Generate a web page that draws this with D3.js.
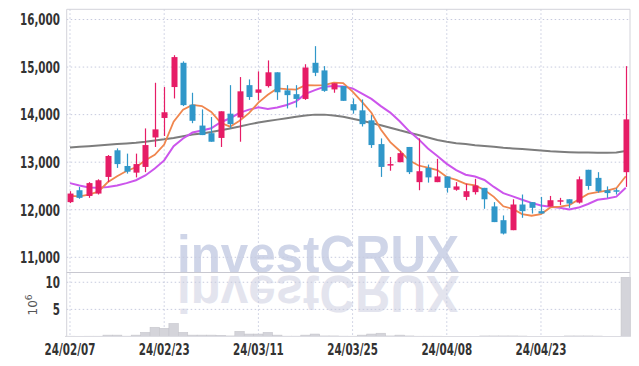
<!DOCTYPE html>
<html><head><meta charset="utf-8">
<script src="https://cdn.jsdelivr.net/npm/d3@7"></script>
<style>
html,body{margin:0;padding:0;background:#fff;}
svg{display:block;}
.tick-lbl{font-family:"DejaVu Sans Condensed","DejaVu Sans","Liberation Sans",sans-serif;font-weight:bold;font-size:16px;fill:#333;}
</style></head>
<body>
<svg id="chart" width="639" height="366"></svg>
<script>
const dates = ["2024-02-07","2024-02-08","2024-02-13","2024-02-14","2024-02-15","2024-02-16","2024-02-19","2024-02-20","2024-02-21","2024-02-22",
"2024-02-23","2024-02-26","2024-02-27","2024-02-28","2024-02-29","2024-03-04","2024-03-05","2024-03-06","2024-03-07","2024-03-08",
"2024-03-11","2024-03-12","2024-03-13","2024-03-14","2024-03-15","2024-03-18","2024-03-19","2024-03-20","2024-03-21","2024-03-22",
"2024-03-25","2024-03-26","2024-03-27","2024-03-28","2024-03-29","2024-04-01","2024-04-02","2024-04-03","2024-04-04","2024-04-05",
"2024-04-08","2024-04-09","2024-04-11","2024-04-12","2024-04-15","2024-04-16","2024-04-17","2024-04-18","2024-04-19","2024-04-22",
"2024-04-23","2024-04-24","2024-04-25","2024-04-26","2024-04-29","2024-04-30","2024-05-02","2024-05-03","2024-05-07","2024-05-08"];

const openP  = [12160,12410,12290,12340,12690,13250,12920,12780,12900,13520,13930,14580,15090,14210,13770,13610,13510,14020,13940,14620,
14460,14600,14890,14510,14430,14330,15090,14930,14530,14600,14220,14090,13880,13380,12930,13000,13320,12580,12880,12580,
12700,12420,12270,12370,12460,12070,11780,11570,12110,12160,11970,12070,12170,12220,12150,12840,12670,12410,12410,12790];
const highP  = [12390,12480,12580,12640,13150,13290,13180,13180,13710,14670,14580,15250,15120,14460,14110,13950,14070,14620,14790,14740,
14910,15140,14890,14620,14620,15060,15440,15020,14660,14600,14340,14320,13990,13500,13110,13240,13320,13500,12950,13070,
12700,12580,12550,12650,12460,12160,11880,12220,12320,12160,12270,12290,12250,12220,12700,12840,12790,12490,12450,15020];
const lowP   = [12140,12230,12250,12320,12580,12880,12760,12680,12790,13320,13550,14340,14180,13820,13570,13430,13320,13710,13430,14310,
14300,14570,14310,14130,14150,14310,14810,14480,14460,14290,14020,13750,13300,12690,12820,13000,12750,12410,12570,12580,
12360,12400,12200,12320,12020,11740,11480,11570,11830,11920,11920,12070,12100,12040,12130,12420,12360,12250,12320,12480];
const closeP = [12340,12250,12560,12620,13130,12960,12800,12960,13360,13690,14050,15210,14200,13870,13570,13430,14070,13800,14490,14370,
14530,14890,14470,14410,14330,14990,14880,14500,14660,14290,14090,13800,13360,12900,12960,13190,12790,12810,12680,12700,
12460,12490,12390,12510,12220,11740,11500,12110,11970,12040,11920,12200,12200,12130,12640,12500,12390,12350,12390,13900];
const volumeM = [0.05,0.04,0.05,0.05,0.25,0.25,0.06,0.25,0.75,1.7,1.5,2.4,0.75,0.25,0.25,0.25,0.22,0.1,0.95,0.45,
0.45,0.75,0.25,0.06,0.06,0.25,0.45,0.1,0.1,0.06,0.05,0.25,0.45,0.6,0.1,0.25,0.1,0.05,0.05,0.05,
0.03,0.03,0.03,0.03,0.1,0.1,0.1,0.1,0.08,0.03,0.03,0.03,0.03,0.1,0.1,0.1,0.08,0.03,0.03,10.9];
const maShort = [12290,12280,12320,12380,12578,12703,12814,12894,13041,13153,13371,13853,14102,14204,14180,14055,13827,13747,13870,14030,
14252,14416,14550,14535,14526,14618,14615,14620,14671,14663,14483,14268,14040,13688,13421,13241,13039,12930,12885,12835,
12688,12628,12544,12511,12414,12271,12072,12017,11909,11874,11909,12049,12066,12097,12216,12332,12370,12401,12453,12705];
const maMid = [12560,12510,12470,12460,12480,12510,12560,12620,12720,12866,13037,13334,13498,13623,13667,13713,13840,13924,14037,14105,
14153,14121,14149,14202,14278,14435,14515,14585,14603,14594,14550,14442,14330,14179,14042,13862,13654,13485,13286,13128,
12965,12833,12737,12698,12625,12479,12350,12280,12210,12144,12090,12061,12042,12003,12045,12121,12210,12234,12275,12461];
const maLong = [13307,13322,13337,13352,13367,13380,13395,13410,13430,13455,13480,13510,13545,13580,13605,13635,13670,13710,13750,13795,
13835,13865,13895,13925,13955,13980,14000,14000,13980,13955,13915,13870,13825,13775,13725,13670,13620,13570,13520,13465,
13430,13400,13380,13355,13340,13325,13305,13290,13278,13262,13245,13228,13218,13210,13205,13202,13200,13200,13202,13235];
const priceTicks = [11000,12000,13000,14000,15000,16000];
const volumeTicks = [5,10];
const dateTickIdx = [0,10,20,30,40,50];

const svg = d3.select("#chart");
const L = 66.7, R = 630, T = 9.3, SEP = 272.5, B = 336.5;
const x = d3.scaleLinear().domain([-0.35, 59.45]).range([L, R]);
const y = d3.scaleLinear().domain([10680, 16215]).range([SEP, T]);
const yv = d3.scaleLinear().domain([0, 11.8]).range([B, SEP]);
const step = x(1) - x(0);
const UP = "#e61c66", DOWN = "#3097c9";
const idx = d3.range(dates.length);
const SX = 0.72;

// watermark
const wm = svg.append("g");
const wmText = (sel) => sel.attr("x", 177).attr("y", 271.5)
  .attr("font-family", "Liberation Sans, Arial, sans-serif").attr("font-weight", "bold")
  .attr("font-size", 52).attr("textLength", 282).attr("lengthAdjust","spacingAndGlyphs").text("investCRUX");
wm.append("text").call(wmText).attr("fill", "#cfd5e8");
wm.append("text").call(wmText).attr("transform", "translate(0,547) scale(1,-1)").attr("fill", "#e3e4ee");

// grids
const gridC = "#c6cade";
svg.append("g").selectAll("line").data(priceTicks).join("line")
  .attr("x1", L).attr("x2", R).attr("y1", d => y(d)).attr("y2", d => y(d))
  .attr("stroke", gridC).attr("stroke-dasharray", "1.5,2.5");
svg.append("g").selectAll("line").data(volumeTicks).join("line")
  .attr("x1", L).attr("x2", R).attr("y1", d => yv(d)).attr("y2", d => yv(d))
  .attr("stroke", gridC).attr("stroke-dasharray", "1.5,2.5");
svg.append("g").selectAll("line").data(dateTickIdx).join("line")
  .attr("x1", d => x(d)).attr("x2", d => x(d)).attr("y1", T).attr("y2", B)
  .attr("stroke", gridC).attr("stroke-dasharray", "1.5,2.5");

// volume bars
svg.append("g").selectAll("rect").data(idx).join("rect")
  .attr("x", i => x(i) - step/2).attr("width", step)
  .attr("y", i => yv(volumeM[i])).attr("height", i => B - yv(volumeM[i]))
  .attr("fill", "#d4d4da").attr("stroke", "#c6c6cc").attr("stroke-width", 0.6);

// MA lines
const line = arr => d3.line().x((d, i) => x(i)).y(d => y(d))(arr);
svg.append("path").attr("d", line(maLong)).attr("fill","none").attr("stroke","#7d7d7d").attr("stroke-width",2);
svg.append("path").attr("d", line(maMid)).attr("fill","none").attr("stroke","#cc55ec").attr("stroke-width",2);
svg.append("path").attr("d", line(maShort)).attr("fill","none").attr("stroke","#f0864e").attr("stroke-width",1.8);

// candles
const cg = svg.append("g");
cg.selectAll("line").data(idx).join("line")
  .attr("x1", i => Math.round(x(i)) + 0.5).attr("x2", i => Math.round(x(i)) + 0.5)
  .attr("y1", i => y(highP[i])).attr("y2", i => y(lowP[i]))
  .attr("stroke", i => closeP[i] >= openP[i] ? UP : DOWN).attr("stroke-width", 1.2);
cg.selectAll("rect").data(idx).join("rect")
  .attr("x", i => Math.round(x(i)) + 0.5 - 3).attr("width", 6)
  .attr("y", i => y(Math.max(openP[i], closeP[i])))
  .attr("height", i => Math.max(1.5, Math.abs(y(openP[i]) - y(closeP[i]))))
  .attr("fill", i => closeP[i] >= openP[i] ? UP : DOWN);

// borders
const bc = "#d3d3da";
svg.append("line").attr("x1", L).attr("x2", R).attr("y1", T).attr("y2", T).attr("stroke", bc);
svg.append("line").attr("x1", L).attr("x2", L).attr("y1", T).attr("y2", B).attr("stroke", bc);
svg.append("line").attr("x1", R).attr("x2", R).attr("y1", T).attr("y2", B).attr("stroke", bc);
svg.append("line").attr("x1", L).attr("x2", R).attr("y1", SEP).attr("y2", SEP).attr("stroke", "#c8c8d0").attr("stroke-width", 1.2);
svg.append("line").attr("x1", L).attr("x2", R).attr("y1", B).attr("y2", B).attr("stroke", "#dcdce2");

// axes labels (condensed via horizontal scale)
const fmt = d3.format(",");
const place = (sel, fx, fy) => sel.attr("transform", d => `translate(${fx(d)},${fy(d)}) scale(${SX},1)`);
svg.append("g").selectAll("text").data(priceTicks).join("text").attr("class","tick-lbl")
  .call(place, () => 60, d => y(d)).attr("dy","0.36em").attr("text-anchor","end").text(d => fmt(d));
svg.append("g").selectAll("text").data(volumeTicks).join("text").attr("class","tick-lbl")
  .call(place, () => 60, d => yv(d)).attr("dy","0.36em").attr("text-anchor","end").text(d => d);
const dfmt = s => s.slice(2).replace(/-/g, "/");
svg.append("g").selectAll("text").data(dateTickIdx).join("text").attr("class","tick-lbl")
  .call(place, d => x(d), () => 349).attr("dy","0.36em").attr("text-anchor","middle").text(d => dfmt(dates[d]));

// volume unit label
const ul = svg.append("text").attr("transform","translate(37,305) rotate(-90)")
  .attr("text-anchor","middle").attr("font-family","DejaVu Sans, sans-serif").attr("font-size",12).attr("fill","#555");
ul.append("tspan").text("10");
ul.append("tspan").attr("dy",-5).attr("font-size",9).text("6");
</script>
</body></html>
